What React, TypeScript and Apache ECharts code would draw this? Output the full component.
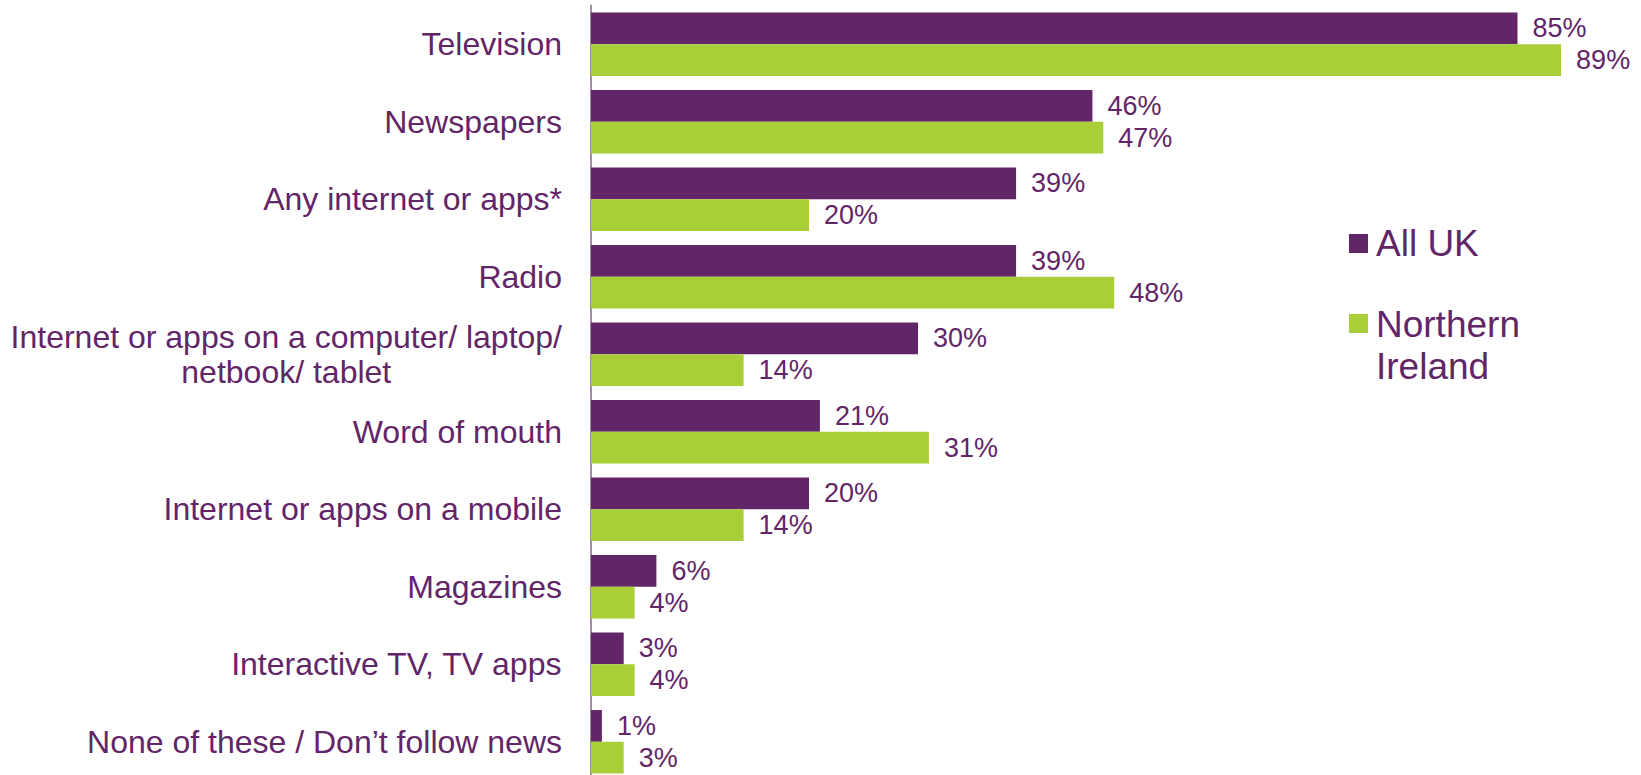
import React, { useEffect, useRef } from "react";
import * as echarts from "echarts";

const categories = [
  "Television",
  "Newspapers",
  "Any internet or apps*",
  "Radio",
  "Internet or apps on a computer/ laptop/\nnetbook/ tablet",
  "Word of mouth",
  "Internet or apps on a mobile",
  "Magazines",
  "Interactive TV, TV apps",
  "None of these / Don\u2019t follow news",
];
const allUK = [85, 46, 39, 39, 30, 21, 20, 6, 3, 1];
const northernIreland = [89, 47, 20, 48, 14, 31, 14, 4, 4, 3];
const seriesNames = ["All UK", "Northern Ireland"];

const PURPLE = "#622567";
const GREEN = "#A9CF38";
const FONT = "'Liberation Sans', Arial, sans-serif";

export default function App() {
  const ref = useRef<HTMLDivElement>(null);
  useEffect(() => {
    if (!ref.current) return;
    const chart = echarts.init(ref.current, undefined, { renderer: "svg" });
    const labelCfg = {
      show: true,
      position: "right",
      distance: 15,
      formatter: "{c}%",
      color: PURPLE,
      fontSize: 27,
      fontFamily: FONT,
    };
    const legendText = (text: string, y: number) => ({
      type: "text",
      x: 1376,
      y,
      style: { text, fill: PURPLE, fontSize: 37, fontFamily: FONT, verticalAlign: "middle", align: "left" },
    });
    chart.setOption({
      animation: false,
      textStyle: { fontFamily: FONT },
      grid: { left: 591, top: 5.5, width: 981, height: 775, containLabel: false },
      xAxis: { type: "value", min: 0, max: 90, show: false },
      yAxis: {
        type: "category",
        inverse: true,
        data: categories,
        axisLine: { show: true, lineStyle: { color: "#A28DA6", width: 2 } },
        axisTick: { show: false },
        splitLine: { show: false },
        axisLabel: {
          margin: 29,
          color: PURPLE,
          fontSize: 32,
          fontFamily: FONT,
          lineHeight: 34.5,
          formatter: (v: string) =>
            v
              .split("\n")
              .map((l) => "{c|" + l + "}")
              .join("\n"),
          rich: {
            c: {
              align: "center",
              color: PURPLE,
              fontSize: 32,
              fontFamily: FONT,
              lineHeight: 34.5,
            },
          },
        },
      },
      series: [
        {
          name: seriesNames[0],
          type: "bar",
          data: allUK,
          barWidth: 31.7,
          barGap: "0%",
          itemStyle: { color: PURPLE },
          label: labelCfg,
        },
        {
          name: seriesNames[1],
          type: "bar",
          data: northernIreland,
          barWidth: 31.7,
          barGap: "0%",
          itemStyle: { color: GREEN },
          label: labelCfg,
        },
      ],
      graphic: [
        { type: "rect", shape: { x: 1349, y: 234, width: 19, height: 19 }, style: { fill: PURPLE } },
        legendText(seriesNames[0], 243),
        { type: "rect", shape: { x: 1349, y: 314, width: 19, height: 19 }, style: { fill: GREEN } },
        legendText("Northern", 324),
        legendText("Ireland", 366),
      ],
    });
    return () => chart.dispose();
  }, []);
  return (
    <div
      ref={ref}
      style={{ position: "fixed", left: 0, top: 0, width: 1641, height: 800, background: "#fff" }}
    />
  );
}
